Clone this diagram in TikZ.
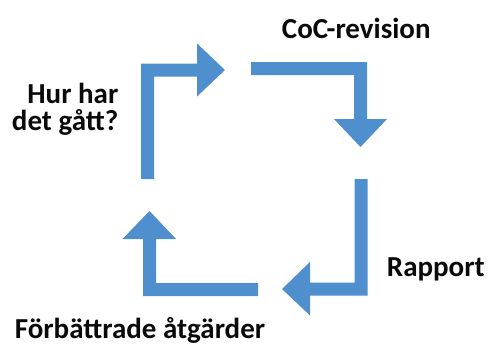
\documentclass[tikz,border=0pt]{standalone}
\usepackage{fontspec}
\setmainfont{Carlito}
\definecolor{arrowblue}{RGB}{79,143,206}
\definecolor{labelink}{RGB}{10,10,10}
\tikzset{
  bentarrow/.style={fill=arrowblue, draw=none},
  lbl/.style={inner sep=0pt, text=labelink, font=\fontsize{29}{34}\selectfont\bfseries, anchor=base}
}
\begin{document}
\begin{tikzpicture}[x=1pt, y=-1pt]
\useasboundingbox (0,0) rectangle (490,348);
% top-left arrow
\fill[bentarrow] (141,179) -- (141,63.5) -- (197,63.5) -- (197,43.5) -- (225,70) -- (197,96.5) -- (197,76.5) -- (154,76.5) -- (154,179) -- cycle;
% top-right arrow
\fill[bentarrow] (251,62) -- (367,62) -- (367,119) -- (387,119) -- (360.5,147) -- (334,119) -- (354,119) -- (354,75) -- (251,75) -- cycle;
% bottom-right arrow
\fill[bentarrow] (354.5,179) -- (367.5,179) -- (367.5,295.5) -- (310,295.5) -- (310,315.5) -- (282,289) -- (310,262) -- (310,282.5) -- (354.5,282.5) -- cycle;
% bottom-left arrow
\fill[bentarrow] (258,283) -- (258,296) -- (143,296) -- (143,239) -- (122.5,239) -- (149.5,211) -- (176,239) -- (156,239) -- (156,283) -- cycle;
% labels
\node[lbl] (coc) at (356.3,38.3) {CoC-revision};
\node[lbl, anchor=base east] (hur1) at (118.5,103.3) {Hur har};
\node[lbl, anchor=base east] (hur2) at (118.5,130) {det gått?};
\node[lbl] (rapport) at (435.8,276.7) {Rapport};
\node[lbl] (forb) at (140,338.3) {Förbättrade åtgärder};
\end{tikzpicture}
\end{document}
